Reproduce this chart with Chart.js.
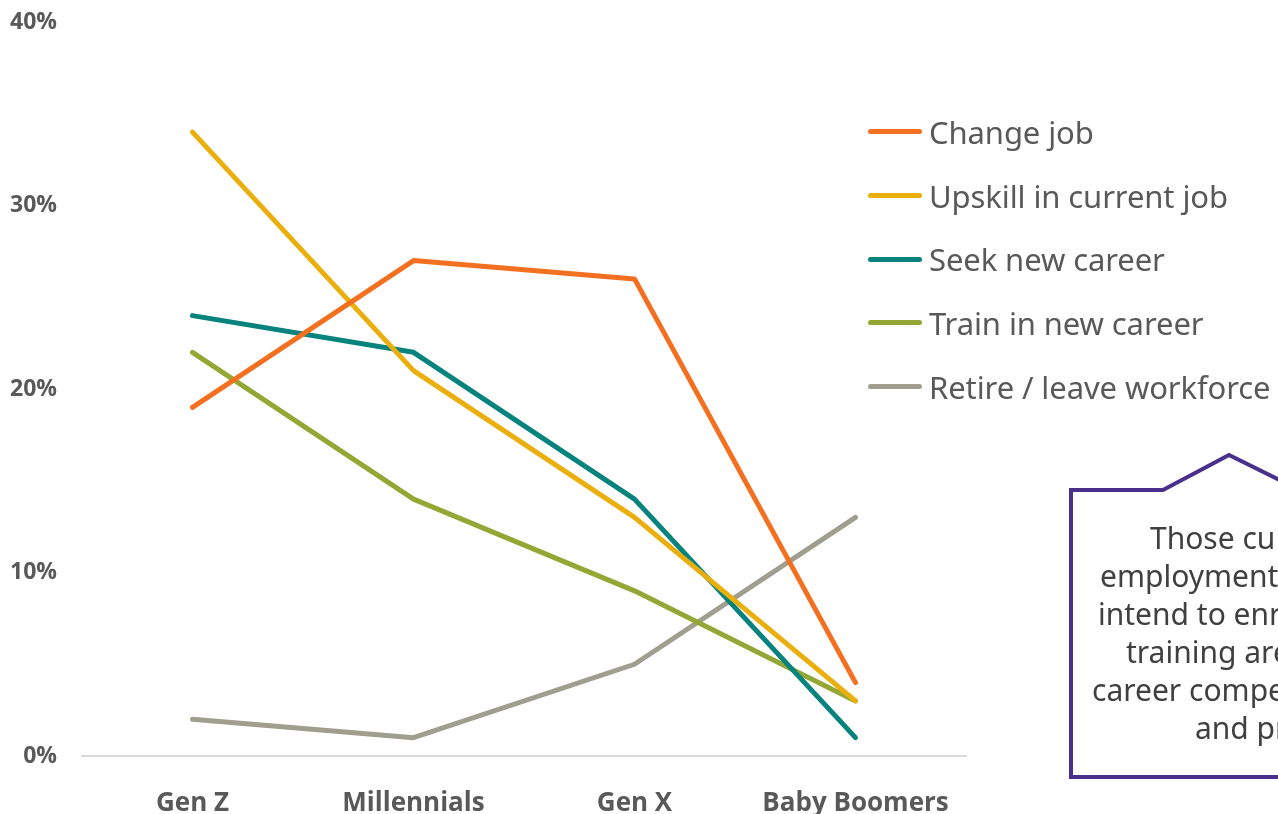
<!DOCTYPE html>
<html>
<head>
<meta charset="utf-8">
<script src="https://cdn.jsdelivr.net/npm/chart.js@4"></script>
<style>
  html, body { margin: 0; padding: 0; background: #fff; }
  body { width: 1278px; height: 814px; overflow: hidden; position: relative; }
  #wrap { position: absolute; left: 0; top: 0; width: 1278px; height: 814px; }
  .legend { position: absolute; left: 868px; top: 100px; font-family: "Noto Sans", sans-serif; font-size: 31px; color: #595959; }
  .legend div { height: 63.7px; display: flex; align-items: center; white-space: nowrap; letter-spacing: -0.1px; }
  .legend span.ln { display: inline-block; width: 54px; height: 5px; border-radius: 3px; margin-right: 7px; }
  .callout { position: absolute; left: 0; top: 0; width: 1278px; height: 814px; pointer-events: none; }
  .note { position: absolute; font-family: "Noto Sans", sans-serif; font-size: 30px; line-height: 38px; color: #404040; white-space: nowrap; }
</style>
</head>
<body>
<div id="wrap"><canvas id="lineChart" width="1278" height="814"></canvas></div>
<div class="legend" id="legend"></div>
<svg class="callout" width="1278" height="814">
  <polyline points="1300,490 1229,455 1163,490 1071,490 1071,777 1300,777" fill="#fff" stroke="#4A2F8C" stroke-width="4" />
</svg>
<div class="note" style="left:1150px;top:519px">Those currently in</div>
<div class="note" style="left:1100px;top:557px">employment who</div>
<div class="note" style="left:1098px;top:595px">intend to enroll in</div>
<div class="note" style="left:1126px;top:633px">training are seeking</div>
<div class="note" style="left:1092px;top:671px">career competitiveness</div>
<div class="note" style="left:1195px;top:709px">and progression.</div>
<script>
const categories = ["Gen Z", "Millennials", "Gen X", "Baby Boomers"];
const seriesNames = ["Change job", "Upskill in current job", "Seek new career", "Train in new career", "Retire / leave workforce"];
const changeJob = [19, 27, 26, 4];
const upskill = [34, 21, 13, 3];
const seekCareer = [24, 22, 14, 1];
const trainCareer = [22, 14, 9, 3];
const retire = [2, 1, 5, 13];
const yTicks = [0, 10, 20, 30, 40];
const colors = ["#F37021", "#EAAF0C", "#07837D", "#93A834", "#A09E8E"];

const values = [changeJob, upskill, seekCareer, trainCareer, retire];

// legend drawn as html, sits over the right of the plot
const legendEl = document.getElementById("legend");
seriesNames.forEach((name, i) => {
  const row = document.createElement("div");
  row.innerHTML = `<span class="ln" style="background:${colors[i]}"></span>${name}`;
  legendEl.appendChild(row);
});

const ctx = document.getElementById("lineChart").getContext("2d");
new Chart(ctx, {
  type: "line",
  data: {
    labels: categories,
    datasets: seriesNames.map((name, i) => ({
      label: name,
      data: values[i],
      borderColor: colors[i],
      backgroundColor: colors[i],
      borderWidth: 5,
      tension: 0,
      pointRadius: 0,
      borderCapStyle: "round",
      borderJoinStyle: "round",
    })),
  },
  options: {
    responsive: false,
    animation: false,
    layout: { padding: { top: 22, right: 312, left: 0, bottom: 0 } },
    plugins: {
      legend: { display: false },
      tooltip: { enabled: false },
    },
    scales: {
      x: {
        offset: true,
        grid: { display: false },
        border: { display: true, color: "#D9D9D9", width: 2 },
        afterFit: (s) => {
          s.height = 58;
          s.paddingLeft = 0; s.paddingRight = 0;
        },
        ticks: {
          padding: 24,
          color: "#595959",
          font: { family: "Open Sans", size: 26, weight: "bold" },
        },
      },
      y: {
        min: 0,
        max: 40,
        afterFit: (s) => {
          s.width = 82;
          s.paddingTop = 0; s.paddingBottom = 0;
        },
        afterBuildTicks: (s) => { s.ticks = yTicks.map((v) => ({ value: v })); },
        grid: { display: false, drawTicks: false },
        border: { display: false },
        ticks: {
          padding: 25,
          color: "#595959",
          font: { family: "Open Sans", size: 23, weight: "bold" },
          callback: (v) => v + "%",
        },
      },
    },
  },
});
</script>
</body>
</html>
